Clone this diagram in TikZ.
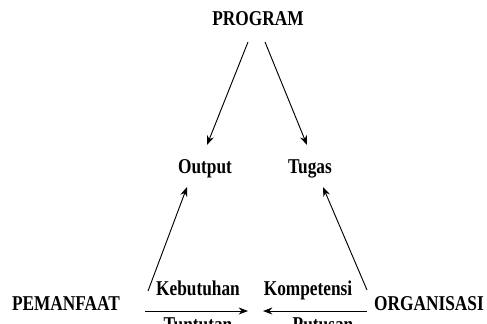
\documentclass[tikz,border=0pt]{standalone}
\usepackage{fontspec}
\setmainfont{Liberation Serif}
\usetikzlibrary{arrows.meta,calc}
\newcommand{\narrow}[1]{\scalebox{0.82}[1]{#1}}
\begin{document}
\begin{tikzpicture}[x=0.03cm,y=-0.03cm,
  lbl/.style={font=\fontsize{18}{20}\selectfont\bfseries,inner sep=0pt,anchor=base},
  arr/.style={-{Stealth[length=8pt,width=6pt]},line width=0.8pt}]
  % Frame
  \useasboundingbox (0,0) rectangle (487,323);
  \clip (0,0) rectangle (487,323);
  % Draw labels
  \node[lbl] (prog) at (258,25) {\narrow{PROGRAM}};
  \node[lbl] (out)  at (205,173) {\narrow{Output}};
  \node[lbl] (tug)  at (310,173) {\narrow{Tugas}};
  \node[lbl] (pem)  at (66,310) {\narrow{PEMANFAAT}};
  \node[lbl] (org)  at (429,310) {\narrow{ORGANISASI}};
  \node[lbl] (keb)  at (198,295) {\narrow{Kebutuhan}};
  \node[lbl] (kom)  at (308,295) {\narrow{Kompetensi}};
  \node[lbl] (tun)  at (198,331) {\narrow{Tuntutan}};
  \node[lbl] (put)  at (323,331) {\narrow{Putusan}};
  % Draw free ends
  \coordinate (pemR) at (148,291);
  \coordinate (orgL) at (367,290);
  \coordinate (midL) at (145,311);
  \coordinate (midR) at (367,311);
  \coordinate (tipL) at (248,311);
  \coordinate (tipR) at (263,311);
  % Draw arrows
  \draw[arr] ($(prog.base)+(-10,17)$) -- ($(out.base)+(2,-28)$);
  \draw[arr] ($(prog.base)+(7,17)$) -- ($(tug.base)+(-3,-28)$);
  \draw[arr] (pemR) -- ($(out.base)+(-18,14)$);
  \draw[arr] (orgL) -- ($(tug.base)+(13,14)$);
  \draw[arr] (midL) -- (tipL);
  \draw[arr] (midR) -- (tipR);
\end{tikzpicture}
\end{document}
